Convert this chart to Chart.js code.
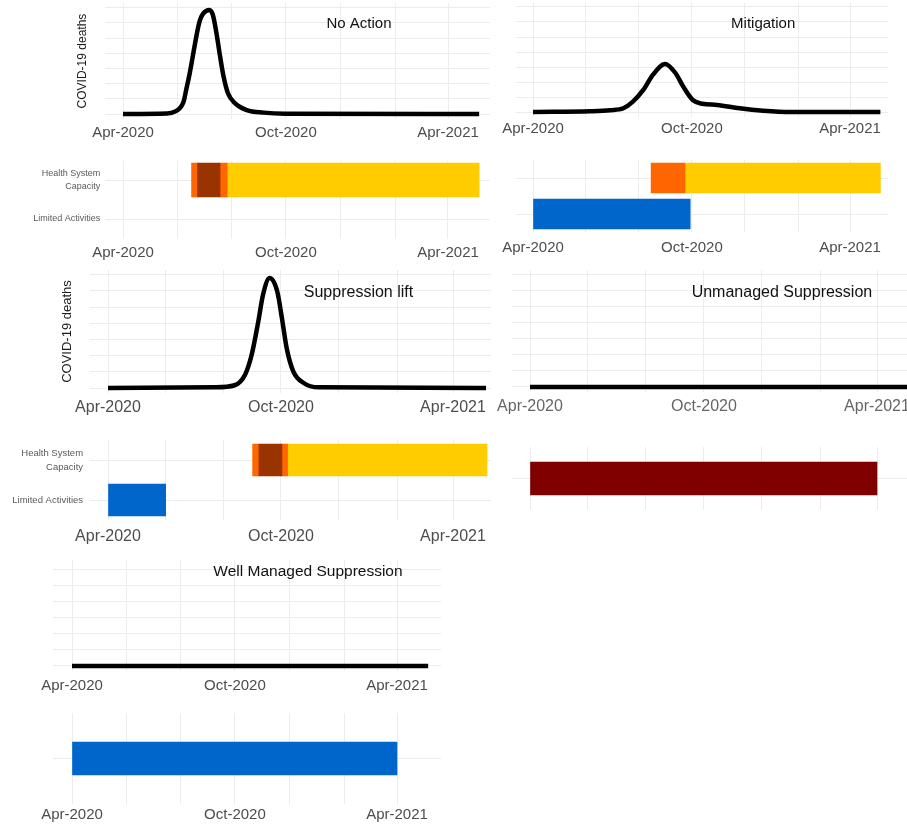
<!DOCTYPE html>
<html>
<head>
<meta charset="utf-8">
<title>COVID-19 response scenarios</title>
<script src="https://cdn.jsdelivr.net/npm/chart.js@4.4.1/dist/chart.umd.min.js"></script>
<style>
  html, body { margin: 0; padding: 0; background: #ffffff; }
  body { position: relative; width: 907px; height: 824px; overflow: hidden; }
  canvas { position: absolute; }
</style>
</head>
<body>
<script>
// ---- Time axis -------------------------------------------------------------
const tickDates  = ['2020-04-01', '2020-06-01', '2020-08-01', '2020-10-01', '2020-12-01', '2021-02-01', '2021-04-01'];
const tickLabels = ['Apr-2020', '', '', 'Oct-2020', '', '', 'Apr-2021'];

// ---- Rows of the activity / capacity timelines ----------------------------
const timelineRows = ['Health System Capacity', 'Limited Activities'];

// ---- Daily COVID-19 deaths (relative units) --------------------------------
const noActionDates  = ['2020-04-01', '2020-05-20', '2020-05-29', '2020-06-08', '2020-06-11', '2020-06-15', '2020-06-19',
                        '2020-06-23', '2020-06-26', '2020-06-30', '2020-07-07', '2020-07-11', '2020-07-15', '2020-07-19',
                        '2020-07-23', '2020-07-28', '2020-08-05', '2020-08-18', '2020-09-06', '2020-09-30', '2021-05-06'];
const noActionDeaths = [0, 0.03, 0.15, 0.8, 1.6, 2.7, 4.0,
                        5.3, 6.1, 6.6, 6.84, 6.5, 5.3, 3.8,
                        2.45, 1.35, 0.7, 0.26, 0.09, 0.02, 0];

const mitigationDates  = ['2020-04-01', '2020-06-06', '2020-06-29', '2020-07-14', '2020-07-25', '2020-08-06', '2020-08-17',
                          '2020-08-31', '2020-09-12', '2020-09-21', '2020-10-02', '2020-10-13', '2020-10-30', '2020-11-25',
                          '2020-12-22', '2021-01-22', '2021-05-06'];
const mitigationDeaths = [0, 0.05, 0.12, 0.25, 0.69, 1.47, 2.47,
                          3.2, 2.6, 1.69, 0.8, 0.55, 0.47, 0.25,
                          0.09, 0, 0];

const suppressionLiftDates  = ['2020-04-01', '2020-07-23', '2020-08-13', '2020-08-24', '2020-08-31', '2020-09-07', '2020-09-12',
                               '2020-09-19', '2020-09-27', '2020-10-02', '2020-10-07', '2020-10-14', '2020-10-25', '2020-11-10',
                               '2021-05-06'];
const suppressionLiftDeaths = [0, 0.04, 0.17, 0.82, 2.05, 4.1, 5.76,
                               6.79, 5.97, 4.32, 2.47, 1.03, 0.31, 0.04,
                               0];

const unmanagedDates  = ['2020-04-01', '2021-05-20'];
const unmanagedDeaths = [0, 0];

const wellManagedDates  = ['2020-04-01', '2021-05-06'];
const wellManagedDeaths = [0, 0];

// ---- Timeline segments: [start, end, status] --------------------------------
const noActionCapacity = [
  ['2020-06-17', '2020-06-23', 'At capacity'],
  ['2020-06-23', '2020-07-19', 'Over capacity'],
  ['2020-07-19', '2020-07-27', 'At capacity'],
  ['2020-07-27', '2021-05-06', 'Under strain']
];
const noActionLimited = [];

const mitigationCapacity = [
  ['2020-08-15', '2020-09-23', 'At capacity'],
  ['2020-09-23', '2021-05-06', 'Under strain']
];
const mitigationLimited = [['2020-04-01', '2020-09-29', 'Limited']];

const suppressionLiftCapacity = [
  ['2020-09-01', '2020-09-07', 'At capacity'],
  ['2020-09-07', '2020-10-02', 'Over capacity'],
  ['2020-10-02', '2020-10-08', 'At capacity'],
  ['2020-10-08', '2021-05-07', 'Under strain']
];
const suppressionLiftLimited = [['2020-04-01', '2020-06-01', 'Limited']];

const unmanagedLimited   = [['2020-04-01', '2021-04-01', 'Limited, unmanaged']];
const wellManagedLimited = [['2020-04-01', '2021-04-01', 'Limited']];

const statusColours = {
  'At capacity': '#FF6600',
  'Over capacity': '#993300',
  'Under strain': '#FFCC00',
  'Limited': '#0066CC',
  'Limited, unmanaged': '#800000'
};

// ---- Helpers ----------------------------------------------------------------
const ORIGIN = Date.UTC(2020, 3, 1);
function dayOf(s) {
  const [y, m, d] = s.split('-').map(Number);
  return (Date.UTC(y, m - 1, d) - ORIGIN) / 86400000;
}
const tickDays = tickDates.map(dayOf);
const GRID = '#ececec';
const FONT = '"Liberation Sans", Arial, Helvetica, sans-serif';

Chart.defaults.font.family = FONT;
Chart.defaults.animation = false;
Chart.defaults.events = [];
Chart.defaults.plugins.legend.display = false;
Chart.defaults.plugins.tooltip.enabled = false;

// Scenario name written inside the plot at a date / value position
const panelLabel = {
  id: 'panelLabel',
  afterDatasetsDraw(chart, args, opts) {
    if (!opts.text) return;
    const { ctx, scales } = chart;
    ctx.save();
    ctx.font = opts.size + 'px ' + FONT;
    ctx.fillStyle = '#111111';
    ctx.textAlign = 'center';
    ctx.textBaseline = 'middle';
    ctx.fillText(opts.text, scales.x.getPixelForValue(dayOf(opts.date)), scales.y.getPixelForValue(opts.value));
    ctx.restore();
  }
};

// Places a canvas so that the plotting area lands on the given box
function mountCanvas(plot, yW, xH) {
  const left = Math.floor(plot.left - yW - 45);
  const top = Math.floor(plot.top - 2);
  const right = Math.ceil(plot.right + 45);
  const bottom = Math.ceil(plot.bottom + xH + 2);
  const canvas = document.createElement('canvas');
  canvas.width = right - left;
  canvas.height = bottom - top;
  canvas.style.left = left + 'px';
  canvas.style.top = top + 'px';
  canvas.style.width = (right - left) + 'px';
  canvas.style.height = (bottom - top) + 'px';
  document.body.appendChild(canvas);
  const padding = {
    left: plot.left - yW - left,
    right: right - plot.right,
    top: plot.top - top,
    bottom: bottom - plot.bottom - xH
  };
  return { canvas, padding };
}

function timeAxis(g) {
  const lh = g.tickSize * 1.2;
  const pad = g.labelCenter != null ? g.labelCenter - g.plot.bottom - lh / 2 : 0;
  return {
    scale: {
      type: 'linear',
      min: g.xMin,
      max: g.xMax,
      afterBuildTicks: s => { s.ticks = tickDays.map(v => ({ value: v })); },
      afterFit: s => {
        s.height = g.xH;
        s.paddingLeft = s.paddingRight = s.paddingTop = s.paddingBottom = 0;
      },
      grid: { color: GRID, lineWidth: 1, drawTicks: false },
      border: { display: false },
      ticks: {
        display: g.labelCenter != null,
        autoSkip: false,
        maxRotation: 0,
        padding: pad,
        color: g.tickColour || '#4d4d4d',
        font: { size: g.tickSize, lineHeight: 1.2 },
        callback: (v, i) => tickLabels[i]
      }
    }
  };
}

function xGeometry(g) {
  const kx = (g.apr21 - g.apr20) / 365;
  return { left: g.apr20 + g.xMin * kx, right: g.apr20 + g.xMax * kx };
}

function deathsPanel(g, dates, deaths, title) {
  const xg = xGeometry(g);
  const plot = { left: xg.left, right: xg.right, top: g.base - g.yMax * g.unit, bottom: g.base - g.yMin * g.unit };
  const xH = g.labelCenter - plot.bottom + g.tickSize;
  let yW = 0;
  if (g.yTitleSize) yW = plot.left - (g.yTitleX - g.yTitleSize * 0.6);
  const { canvas, padding } = mountCanvas(plot, yW, xH);
  const gridValues = [];
  for (let v = 0; v <= g.yMax; v++) gridValues.push(v);
  new Chart(canvas, {
    type: 'line',
    data: {
      datasets: [{
        data: dates.map((d, i) => ({ x: dayOf(d), y: deaths[i] })),
        borderColor: '#000000',
        borderWidth: 4.5,
        borderJoinStyle: 'round',
        pointRadius: 0,
        cubicInterpolationMode: 'monotone',
        fill: false
      }]
    },
    options: {
      responsive: false,
      layout: { padding },
      scales: {
        x: timeAxis({ ...g, plot, xH }).scale,
        y: {
          type: 'linear',
          min: g.yMin,
          max: g.yMax,
          afterBuildTicks: s => { s.ticks = gridValues.map(v => ({ value: v })); },
          afterFit: s => {
            s.width = yW;
            s.paddingLeft = s.paddingRight = s.paddingTop = s.paddingBottom = 0;
          },
          grid: { color: GRID, lineWidth: 1, drawTicks: false },
          border: { display: false },
          ticks: { display: false },
          title: {
            display: !!g.yTitleSize,
            text: 'COVID-19 deaths',
            color: '#1a1a1a',
            padding: 0,
            font: { size: g.yTitleSize || 12, lineHeight: 1.2 }
          }
        }
      },
      plugins: {
        panelLabel: { text: title, date: '2020-12-22', value: 5.9, size: g.titleSize }
      }
    },
    plugins: [panelLabel]
  });
}

function wrapRow(label) {
  const words = label.split(' ');
  return words.length > 2 ? [words.slice(0, -1).join(' '), words[words.length - 1]] : label;
}

function timelinePanel(g, rows, capacity, limited) {
  const xg = xGeometry(g);
  const plot = { left: xg.left, right: xg.right, top: g.top, bottom: g.bottom };
  const xH = g.labelCenter != null ? g.labelCenter - plot.bottom + g.tickSize : 2;
  const yW = g.rowLabelSize ? g.rowW : 0;
  const { canvas, padding } = mountCanvas(plot, yW, xH);
  const segments = [
    ...capacity.map(s => [...s, 'Health System Capacity']),
    ...limited.map(s => [...s, 'Limited Activities'])
  ];
  new Chart(canvas, {
    type: 'bar',
    data: {
      labels: rows,
      datasets: segments.map(([start, end, status, row]) => ({
        label: status,
        data: [{ x: [dayOf(start), dayOf(end)], y: row }],
        backgroundColor: statusColours[status],
        borderWidth: 0,
        barThickness: g.bar,
        grouped: false
      }))
    },
    options: {
      responsive: false,
      indexAxis: 'y',
      layout: { padding },
      scales: {
        x: timeAxis({ ...g, plot, xH }).scale,
        y: {
          type: 'category',
          offset: true,
          afterFit: s => {
            s.width = yW;
            s.paddingLeft = s.paddingRight = s.paddingTop = s.paddingBottom = 0;
          },
          grid: { color: GRID, lineWidth: 1, drawTicks: false, offset: false },
          border: { display: false },
          ticks: {
            display: !!g.rowLabelSize,
            padding: g.rowPad || 5,
            color: '#5a5a5a',
            font: { size: g.rowLabelSize || 9, lineHeight: 1.45 },
            callback: function (v) { return wrapRow(this.getLabelForValue(v)); }
          }
        }
      }
    }
  });
}

// ---- No Action ----------------------------------------------------------------
deathsPanel({ apr20: 123, apr21: 448, xMin: -20, xMax: 412, base: 114, unit: 15.2, yMin: -0.33, yMax: 7.3,
              tickSize: 15, labelCenter: 133, titleSize: 15, yTitleSize: 12, yTitleX: 83 },
            noActionDates, noActionDeaths, 'No Action');
timelinePanel({ apr20: 123, apr21: 448, xMin: -20, xMax: 412, top: 160.5, bottom: 238.5, bar: 34,
                tickSize: 15, labelCenter: 253, rowLabelSize: 9, rowPad: 5, rowW: 85 },
              timelineRows, noActionCapacity, noActionLimited);

// ---- Mitigation -----------------------------------------------------------------
deathsPanel({ apr20: 533, apr21: 850, xMin: -20, xMax: 409, base: 112, unit: 15, yMin: -0.33, yMax: 7.27,
              tickSize: 15, labelCenter: 129, titleSize: 15 },
            mitigationDates, mitigationDeaths, 'Mitigation');
timelinePanel({ apr20: 533, apr21: 850, xMin: -20, xMax: 409, top: 160, bottom: 232, bar: 30,
                tickSize: 15, labelCenter: 248 },
              timelineRows, mitigationCapacity, mitigationLimited);

// ---- Suppression lift -------------------------------------------------------------
deathsPanel({ apr20: 108, apr21: 453, xMin: -19, xMax: 405, base: 388, unit: 16.2, yMin: -0.31, yMax: 7.28,
              tickSize: 16, labelCenter: 408, titleSize: 16, yTitleSize: 13, yTitleX: 67 },
            suppressionLiftDates, suppressionLiftDeaths, 'Suppression lift');
timelinePanel({ apr20: 108, apr21: 453, xMin: -19, xMax: 405, top: 440, bottom: 520, bar: 32,
                tickSize: 16, labelCenter: 537, rowLabelSize: 9.5, rowPad: 7, rowW: 88 },
              timelineRows, suppressionLiftCapacity, suppressionLiftLimited);

// ---- Unmanaged Suppression ---------------------------------------------------------
deathsPanel({ apr20: 530, apr21: 877, xMin: -19, xMax: 405, base: 387, unit: 16, yMin: -0.31, yMax: 7.3,
              tickSize: 16, labelCenter: 407, titleSize: 16, tickColour: '#666666' },
            unmanagedDates, unmanagedDeaths, 'Unmanaged Suppression');
timelinePanel({ apr20: 530, apr21: 877, xMin: -19, xMax: 405, top: 447, bottom: 510, bar: 33, tickSize: 16 },
              ['Limited Activities'], [], unmanagedLimited);

// ---- Well Managed Suppression --------------------------------------------------------
deathsPanel({ apr20: 72, apr21: 397, xMin: -21, xMax: 415, base: 666, unit: 16, yMin: -0.3, yMax: 6.6,
              tickSize: 15, labelCenter: 686, titleSize: 15.5 },
            wellManagedDates, wellManagedDeaths, 'Well Managed Suppression');
timelinePanel({ apr20: 72, apr21: 397, xMin: -21, xMax: 415, top: 713, bottom: 804, bar: 33,
                tickSize: 15, labelCenter: 815 },
              ['Limited Activities'], [], wellManagedLimited);
</script>
</body>
</html>
